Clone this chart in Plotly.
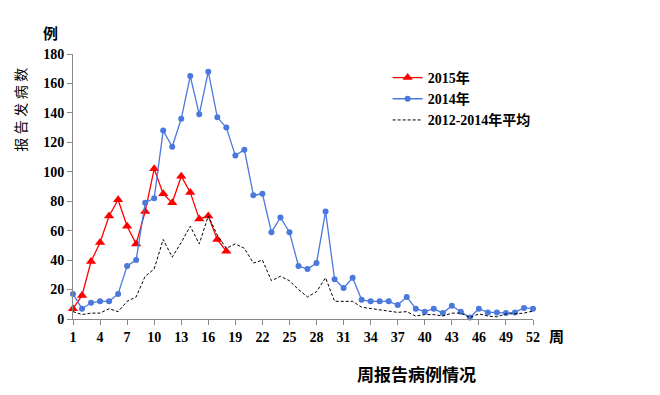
import plotly.graph_objects as go

weeks = list(range(1, 53))

cases_2015 = [7, 16, 39, 52, 70, 81, 63, 51, 73, 102, 85, 79, 97, 86, 68, 70, 54, 46]

cases_2014 = [17, 7, 11, 12, 12, 17, 36, 40, 79, 82, 128, 117, 136, 165, 139, 168, 137, 130,
              111, 115, 84, 85, 59, 69, 59, 36, 34, 38, 73, 27, 21, 28, 13, 12, 12, 12,
              9.5, 15, 7, 5, 7, 4, 9, 5, 1, 7, 4.5, 4.5, 4, 4.5, 7.5, 7]

avg_2012_2014 = [5, 3, 4, 4, 7, 5, 12, 15, 29, 34, 54, 42, 52, 63, 51, 70, 57, 48,
                 51, 48, 38, 40, 26, 29, 26, 20, 15, 18.5, 28, 12, 12, 12, 8, 7, 6, 5,
                 4.5, 5, 2, 3, 3, 2, 4, 4, 1, 3.5, 2, 1.5, 3.5, 3.5, 4, 5.4]

xtick_vals = list(range(1, 53, 3))
ytick_vals = list(range(0, 181, 20))

serif = "Times New Roman, Liberation Serif, Noto Sans CJK SC, serif"
cjk = "Noto Sans CJK SC, sans-serif"

fig = go.Figure()
fig.add_trace(go.Scatter(
    x=weeks[:len(cases_2015)], y=cases_2015, name="2015年", mode="lines+markers",
    line=dict(color="#FF0000", width=1.3),
    marker=dict(symbol="triangle-up", size=9, color="#FF0000"),
    cliponaxis=False))
fig.add_trace(go.Scatter(
    x=weeks, y=cases_2014, name="2014年", mode="lines+markers",
    line=dict(color="#4A78DC", width=1.3),
    marker=dict(symbol="circle", size=6, color="#4A78DC"),
    cliponaxis=False))
fig.add_trace(go.Scatter(
    x=weeks, y=avg_2012_2014, name="2012-2014年平均", mode="lines",
    line=dict(color="#000000", width=1, dash="3px,2px"),
    cliponaxis=False))

fig.update_layout(
    width=660, height=395,
    margin=dict(l=65, r=135, t=46, b=84),
    paper_bgcolor="white", plot_bgcolor="white",
    font=dict(family=serif, size=14, color="black"),
    showlegend=True,
    legend=dict(x=0.684, y=0.97, xanchor="left", yanchor="top",
                font=dict(family=serif, size=14, weight="bold"),
                bgcolor="rgba(0,0,0,0)", tracegroupgap=0, itemwidth=30),
    xaxis=dict(range=[1, 52], tickvals=xtick_vals, ticks="outside", ticklen=5,
               tickcolor="#888888", showline=True, linecolor="#888888", linewidth=1,
               showgrid=False, zeroline=False,
               tickfont=dict(family=serif, size=14, weight="bold")),
    yaxis=dict(range=[0, 180], tickvals=ytick_vals, ticks="outside", ticklen=5,
               tickcolor="#888888", showline=True, linecolor="#888888", linewidth=1,
               showgrid=False, zeroline=False,
               tickfont=dict(family=serif, size=14, weight="bold")),
)

def note(text, x, y, size, weight="bold", angle=0):
    fig.add_annotation(text=text, xref="paper", yref="paper", x=x, y=y,
                       xanchor="center", yanchor="middle", showarrow=False,
                       textangle=angle,
                       font=dict(family=cjk, size=size, weight=weight))

note("例", -0.05, 1.081, 15)
note("周", 1.052, -0.064, 15)
note("报\u2005告\u2005发\u2005病\u2005数", -0.115, 0.79, 14, weight="normal", angle=-90)
note("周报告病例情况", 0.746, -0.207, 17)

fig.write_html("out.html")
